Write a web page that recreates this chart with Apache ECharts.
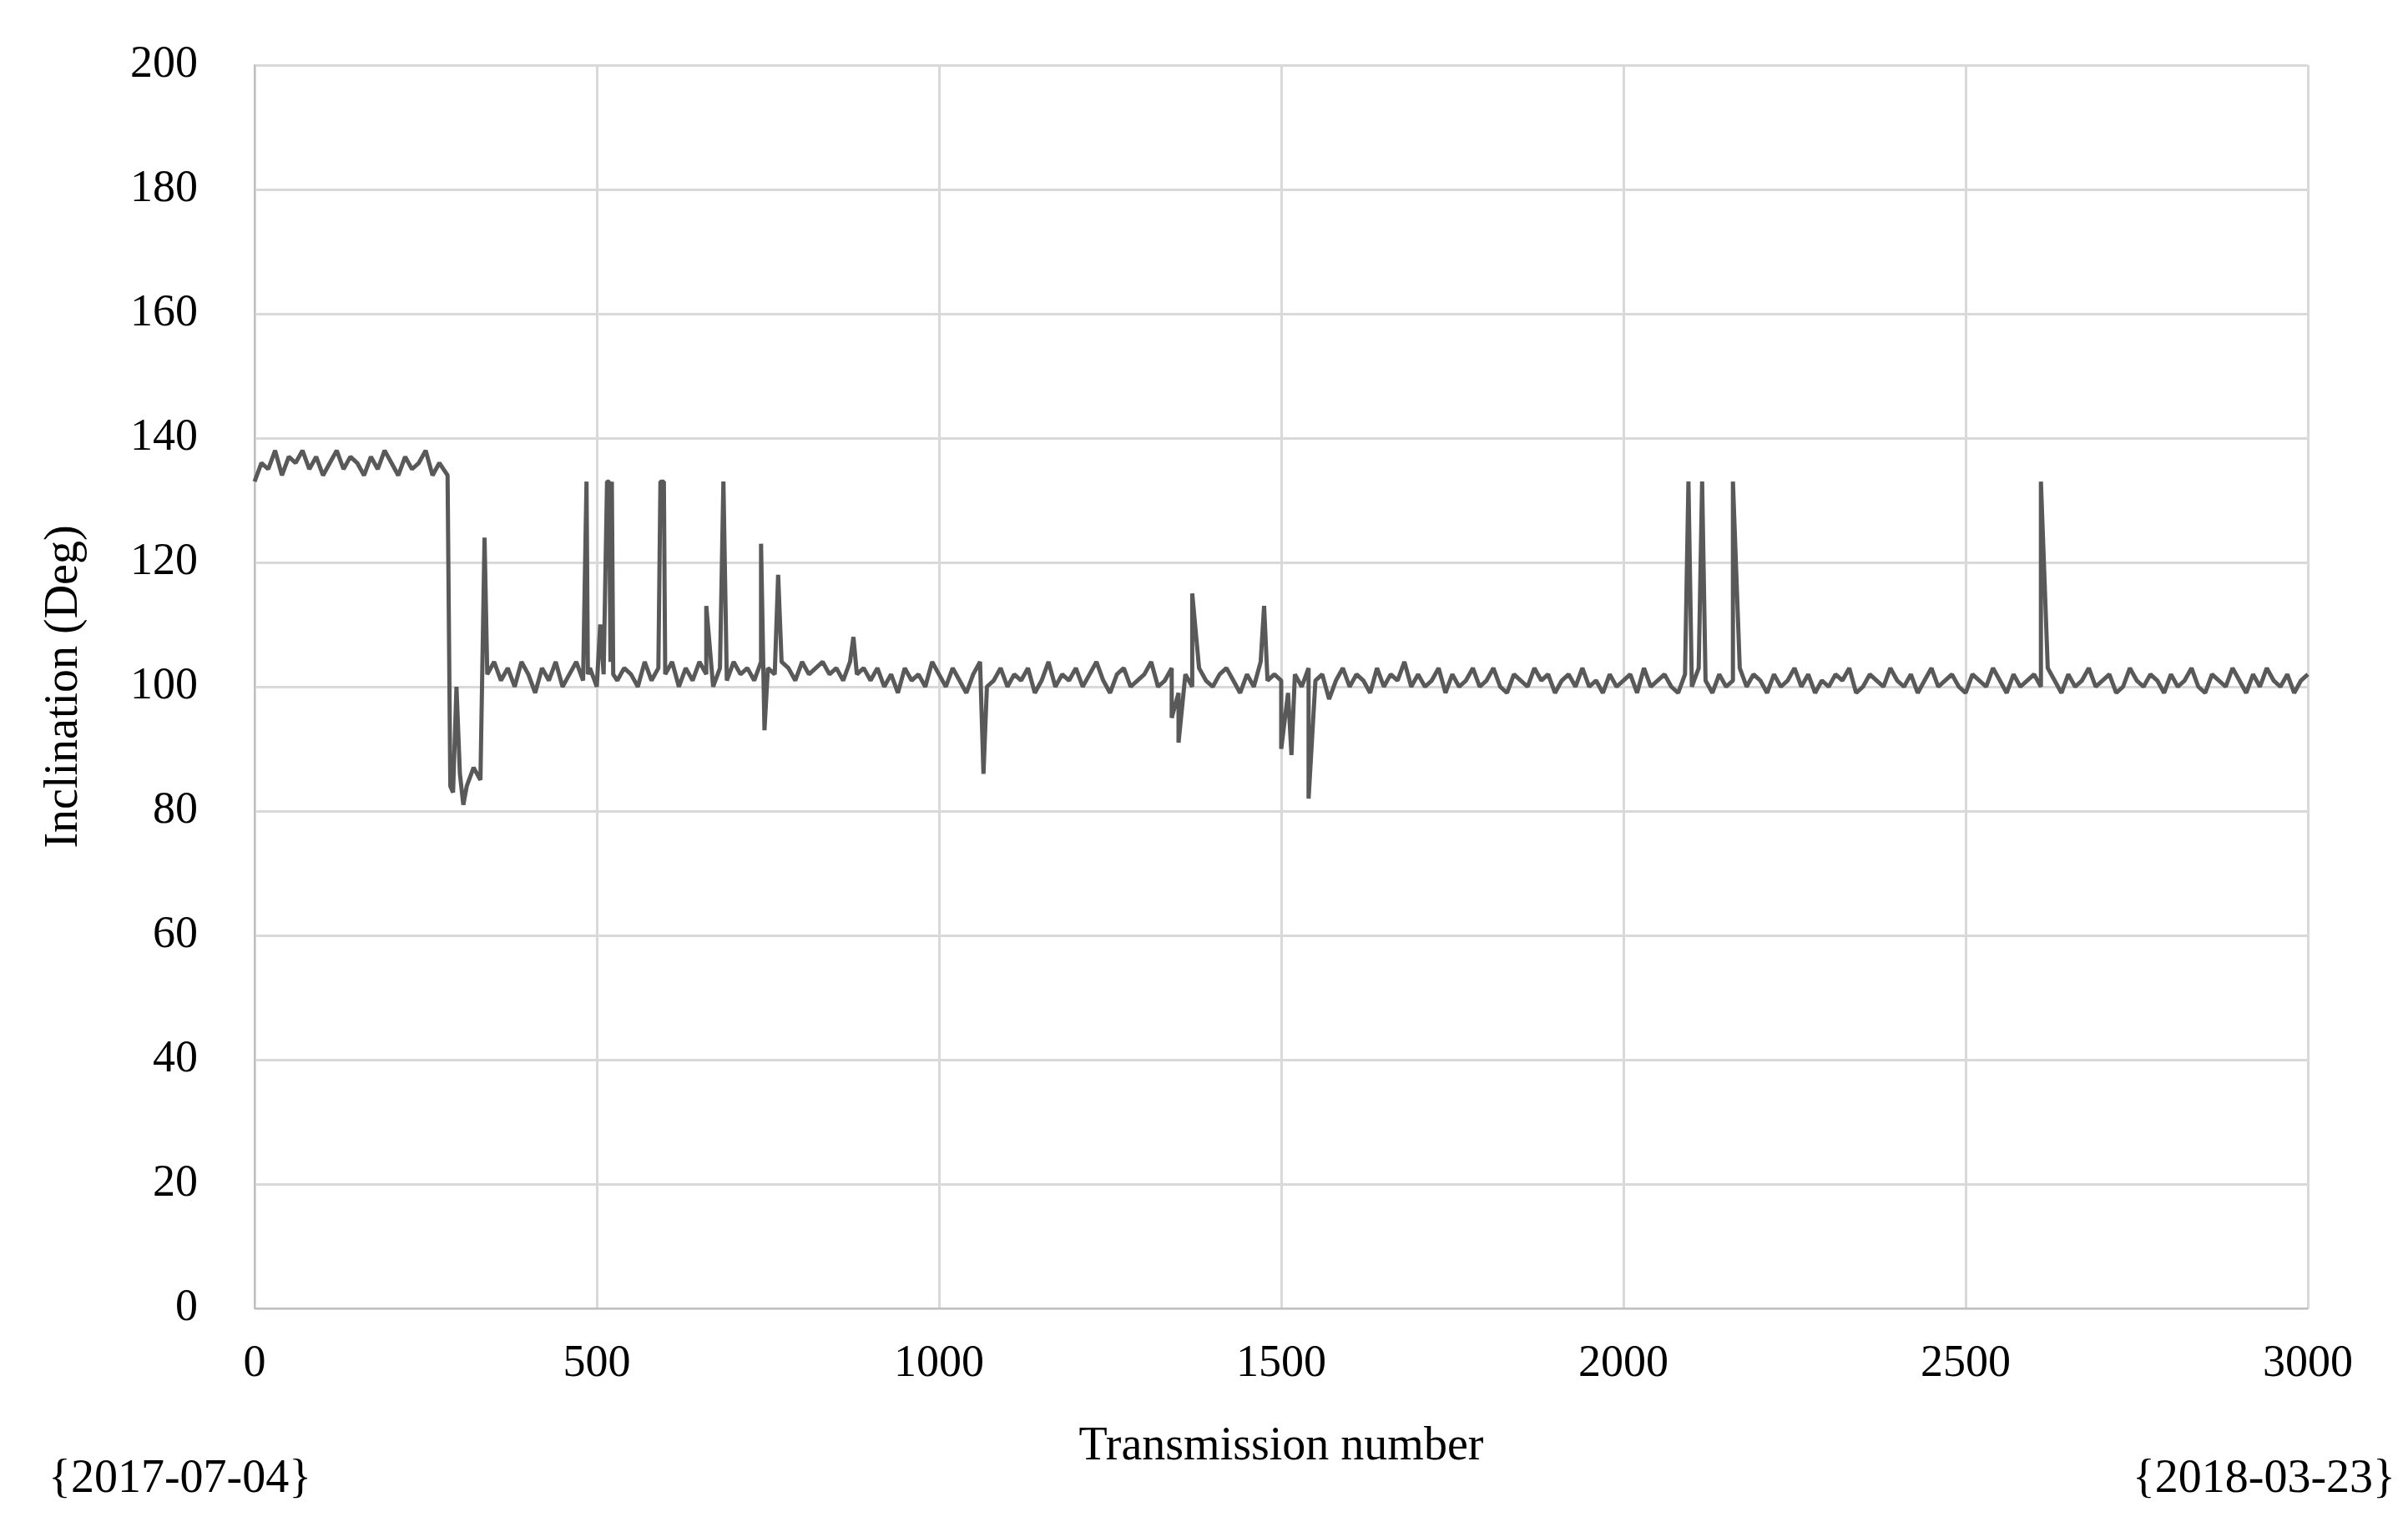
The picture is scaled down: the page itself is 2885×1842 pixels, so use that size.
<!DOCTYPE html>
<html lang="en">
<head>
<meta charset="UTF-8">
<title>Inclination</title>
<script src="https://cdn.jsdelivr.net/npm/echarts@6/dist/echarts.min.js"></script>
<style>html,body{margin:0;background:#fff}</style>
</head>
<body>
<div id="main" style="width:2885px;height:1842px"></div>
<script>
// base values, one per 10 transmissions
var segA = [133,136,135,138,134,137,136,138,135,137,134,136,138,135,137,136,134,137,135,138,136,134,137,135,136,138,134,136]; // x 0..270
var segB = [83,86,84,87,85]; // x 290..330
var segC = [102,104,101,103,100,104,102,99,103,101,104,100,102,104,101,103,100,102,104,101,103,102,100,104,101,103,102,104,100,103,101,104,102,100,103,101,104,102,103,101,104,103,102,104,103,101,104,102,103,104,102,103,101,104,102,103]; // x 340..890
var segD = [101,103,100,102,99,103,101,102,100,104,
102,100,103,101,99,102,104,100,101,103,
100,102,101,103,99,101,104,100,102,101,
103,100,102,104,101,99,102,103,100,101,
102,104,100,101,103,99,102,100,103,101,
100,102,103,101,99,102,100,104,101,102,
101,99,102,100,103,101,102,98,101,103,
100,102,101,99,103,100,102,101,104,100,
102,100,101,103,99,102,100,101,103,100,
101,103,100,99,102,101,100,103,101,102,
99,101,102,100,103,100,101,99,102,100,
101,102,99,103,100,101,102,100,99,102,
100,103,101,99,102,100,101,103,100,102,
101,99,102,100,101,103,100,102,99,101,
100,102,101,103,99,100,102,101,100,103,
101,100,102,99,101,103,100,101,102,100,
99,102,101,100,103,101,99,102,100,101,
102,100,103,101,99,102,100,101,103,100,
101,102,99,100,103,101,100,102,101,99,
102,100,101,103,100,99,102,101,100,103,
101,99,102,100,103,101,100,102,99,101,102]; // x 900..3000
var spikes = [[282,134],[286,84],[295,100],[305,81],[336,124],[485,133],[487,102],[505,110],[515,133],[518,133],[522,133],[524,102],[593,133],[598,133],[602,102],[660,113],[685,133],[740,123],[745,93],[765,118],[875,108],[1065,86],[1340,95],[1350,91],[1370,115],[1475,113],[1500,90],[1515,89],[1540,82],[2095,133],[2115,133],[2160,133],[2610,133]];
var yTicks = ['0','20','40','60','80','100','120','140','160','180','200'];
var xTicks = ['0','500','1000','1500','2000','2500','3000'];
var dateStart = '{2017-07-04}', dateEnd = '{2018-03-23}';

var data = [];
function addSeg(seg, x0) { for (var i = 0; i < seg.length; i++) data.push([x0 + i * 10, seg[i]]); }
addSeg(segA, 0); addSeg(segB, 290); addSeg(segC, 340); addSeg(segD, 900);
data = data.concat(spikes).sort(function (a, b) { return a[0] - b[0]; });

var font = 'Liberation Serif';
var myChart = echarts.init(document.getElementById('main'));
myChart.setOption({
    animation: false,
    grid: {left: 305, right: 120, top: 78, bottom: 274},
    xAxis: {
        type: 'value', min: 0, max: 3000, interval: 500,
        axisLine: {lineStyle: {color: '#bfbfbf', width: 2}},
        axisTick: {show: false},
        axisLabel: {fontFamily: font, fontSize: 54, color: '#000', margin: 40,
            formatter: function (v) { return xTicks[v / 500]; }},
        splitLine: {show: true, lineStyle: {color: '#d9d9d9', width: 3}},
        name: 'Transmission number', nameLocation: 'middle', nameGap: 138,
        nameTextStyle: {fontFamily: font, fontSize: 56, color: '#000'}
    },
    yAxis: {
        type: 'value', min: 0, max: 200, interval: 20,
        axisLine: {show: true, lineStyle: {color: '#bfbfbf', width: 2}},
        axisTick: {show: false},
        axisLabel: {fontFamily: font, fontSize: 54, color: '#000', margin: 68,
            formatter: function (v) { return yTicks[v / 20]; }},
        splitLine: {lineStyle: {color: '#d9d9d9', width: 3}},
        name: 'Inclination (Deg)', nameLocation: 'middle', nameGap: 200,
        nameTextStyle: {fontFamily: font, fontSize: 56, color: '#000'}
    },
    graphic: [
        {type: 'text', left: 58, top: 1745, style: {text: dateStart, font: '56px "Liberation Serif"', fill: '#000'}},
        {type: 'text', right: 15, top: 1745, style: {text: dateEnd, font: '56px "Liberation Serif"', fill: '#000'}}
    ],
    series: [{
        type: 'line', data: data, symbol: 'none',
        lineStyle: {color: '#595959', width: 5}
    }]
});
</script>
</body>
</html>
